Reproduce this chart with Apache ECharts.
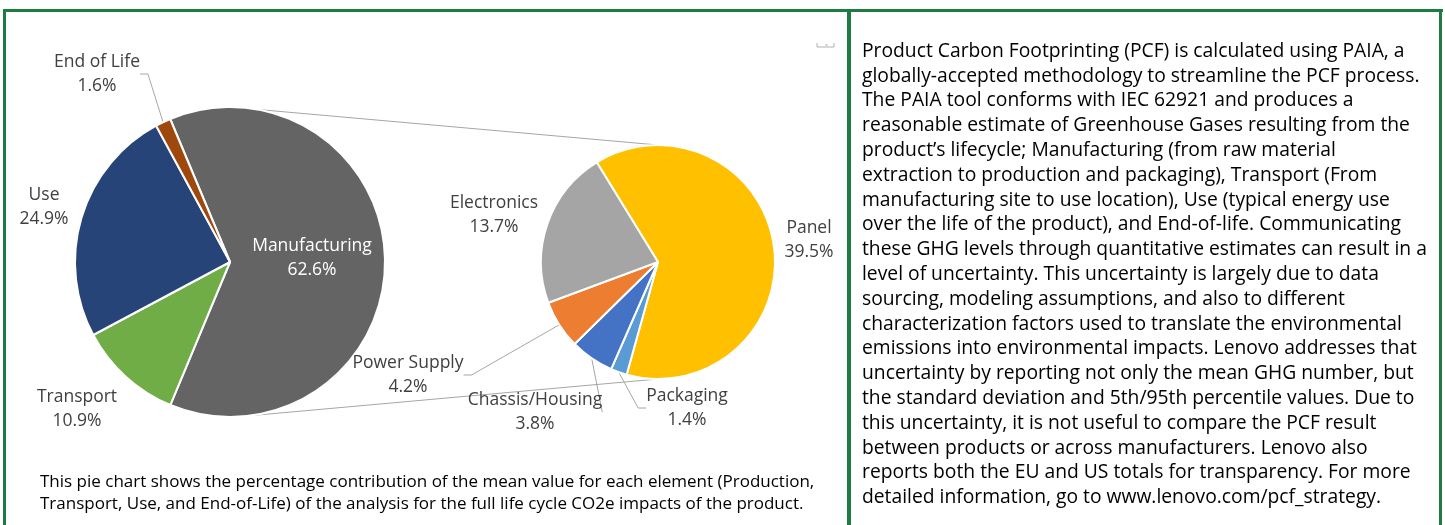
<!DOCTYPE html>
<html>
<head>
<meta charset="utf-8">
<title>Product Carbon Footprint</title>
<script src="https://cdn.jsdelivr.net/npm/echarts@6/dist/echarts.min.js"></script>
<style>
	html, body { margin: 0; padding: 0; background: #fff; }
	#chart { width: 1445px; height: 525px; }
</style>
</head>
<body>
<div id="chart"></div>
<script type="text/javascript">
	// main pie: life cycle phases (% of total CO2e)
	var phaseNames = ['Manufacturing', 'Transport', 'Use', 'End of Life'];
	var phaseValues = [62.6, 10.9, 24.9, 1.6];
	// secondary pie: manufacturing split (% of total CO2e)
	var partNames = ['Panel', 'Packaging', 'Chassis/Housing', 'Power Supply', 'Electronics'];
	var partValues = [39.5, 1.4, 3.8, 4.2, 13.7];

	var phaseColors = ['#646464', '#70AD47', '#264478', '#9E480E'];
	var partColors = ['#FFC000', '#5B9BD5', '#4472C4', '#ED7D31', '#A5A5A5'];

	// label centres and leader lines
	var phaseLabelPos = [[312, 258], [77, 409], [44, 207], [97, 74]];
	var phaseLabelLine = [false, false, false, true];
	var partLabelPos = [[809, 240], [687, 408], [535, 412], [408, 375], [494, 215]];
	var partLabelLine = [false, true, true, true, false];

	var noteLines = [
		'Product Carbon Footprinting (PCF) is calculated using PAIA, a',
		'globally-accepted methodology to streamline the PCF process.',
		'The PAIA tool conforms with IEC 62921 and produces a',
		'reasonable estimate of Greenhouse Gases resulting from the',
		'product\u2019s lifecycle; Manufacturing (from raw material',
		'extraction to production and packaging), Transport (From',
		'manufacturing site to use location), Use (typical energy use',
		'over the life of the product), and End-of-life. Communicating',
		'these GHG levels through quantitative estimates can result in a',
		'level of uncertainty. This uncertainty is largely due to data',
		'sourcing, modeling assumptions, and also to different',
		'characterization factors used to translate the environmental',
		'emissions into environmental impacts. Lenovo addresses that',
		'uncertainty by reporting not only the mean GHG number, but',
		'the standard deviation and 5th/95th percentile values. Due to',
		'this uncertainty, it is not useful to compare the PCF result',
		'between products or across manufacturers. Lenovo also',
		'reports both the EU and US totals for transparency. For more',
		'detailed information, go to www.lenovo.com/pcf_strategy.'
	];
	var captionLines = [
		'This pie chart shows the percentage contribution of the mean value for each element (Production,',
		'Transport, Use, and End-of-Life) of the analysis for the full life cycle CO2e impacts of the product.'
	];

	var FONT = '"Open Sans", "Noto Sans", sans-serif';
	var pie1 = {cx: 230, cy: 262, r: 155};
	var pie2 = {cx: 658, cy: 262, r: 117};
	var green = '#1E7B41';

	// font size so that the widest line fills the given width
	function fitSize(lines, width) {
		var ctx = document.createElement('canvas').getContext('2d');
		ctx.font = '100px ' + FONT;
		var w = 0;
		lines.forEach(function (l) { w = Math.max(w, ctx.measureText(l).width); });
		return Math.round(100 * width / w * 10) / 10;
	}
	var noteSize = fitSize(noteLines, 566);
	var captionSize = fitSize(captionLines, 773);

	function makeData(names, values, colors, lines, whiteIdx) {
		return names.map(function (n, i) {
			return {
				name: n,
				value: values[i],
				itemStyle: {color: colors[i]},
				label: {color: i === whiteIdx ? '#fff' : '#404040'},
				labelLine: {show: lines[i]}
			};
		});
	}

	var labelOpt = {
		show: true,
		position: 'outside',
		overflow: 'none',
		fontFamily: FONT,
		fontSize: 17.5,
		lineHeight: 24,
		align: 'center',
		formatter: function (p) { return p.name + '\n' + p.value.toFixed(1) + '%'; }
	};
	var lineOpt = {length: 10, length2: 8, lineStyle: {color: '#A6A6A6', width: 1}};

	var bottomAng = 7.5 * Math.PI / 180;
	var myChart = echarts.init(document.getElementById('chart'));
	var option = {
		animation: false,
		textStyle: {fontFamily: FONT},
		series: [{
			type: 'pie',
			center: [pie1.cx, pie1.cy],
			radius: pie1.r,
			startAngle: 112.7,
			clockwise: true,
			itemStyle: {borderColor: '#fff', borderWidth: 2},
			label: labelOpt,
			labelLine: lineOpt,
			labelLayout: function (p) {
				var pos = phaseLabelPos[p.dataIndex];
				return {x: pos[0], y: pos[1], align: 'center', verticalAlign: 'middle'};
			},
			data: makeData(phaseNames, phaseValues, phaseColors, phaseLabelLine, 0)
		}, {
			type: 'pie',
			center: [pie2.cx, pie2.cy],
			radius: pie2.r,
			startAngle: 121.6,
			clockwise: true,
			itemStyle: {borderColor: '#fff', borderWidth: 2},
			label: labelOpt,
			labelLine: lineOpt,
			labelLayout: function (p) {
				var pos = partLabelPos[p.dataIndex];
				return {x: pos[0], y: pos[1], align: 'center', verticalAlign: 'middle'};
			},
			data: makeData(partNames, partValues, partColors, partLabelLine, -1)
		}],
		graphic: [
			// panel borders
			{type: 'rect', shape: {x: 3, y: 9, width: 1440, height: 3}, style: {fill: green}},
			{type: 'rect', shape: {x: 3, y: 9, width: 3, height: 520}, style: {fill: green}},
			{type: 'rect', shape: {x: 847, y: 9, width: 4, height: 520}, style: {fill: green}},
			{type: 'rect', shape: {x: 1439, y: 9, width: 3, height: 520}, style: {fill: green}},
			// connector lines between the pies
			{type: 'line', shape: {x1: pie1.cx, y1: pie1.cy - pie1.r, x2: pie2.cx, y2: pie2.cy - pie2.r},
				style: {stroke: '#A6A6A6', lineWidth: 1}},
			{type: 'line', shape: {x1: pie1.cx + pie1.r * Math.sin(bottomAng), y1: pie1.cy + pie1.r * Math.cos(bottomAng),
				x2: pie2.cx, y2: pie2.cy + pie2.r}, style: {stroke: '#A6A6A6', lineWidth: 1}},
			// small mark near the chart corner
			{type: 'polyline', shape: {points: [[817, 43], [817, 47], [834, 47], [834, 43]]},
				style: {stroke: '#B0B0B0', lineWidth: 1, fill: null}},
			{type: 'line', shape: {x1: 825, y1: 45, x2: 828, y2: 45}, style: {stroke: '#B0B0B0', lineWidth: 1}},
			// texts
			{type: 'text', x: 862, y: 39, style: {
				text: noteLines.join('\n'), font: noteSize + 'px ' + FONT, lineHeight: 24.8,
				fill: '#000', verticalAlign: 'top'}},
			{type: 'text', x: 40, y: 471, style: {
				text: captionLines.join('\n'), font: captionSize + 'px ' + FONT, lineHeight: 22,
				fill: '#000', verticalAlign: 'top'}}
		]
	};
	myChart.setOption(option);
</script>
</body>
</html>
